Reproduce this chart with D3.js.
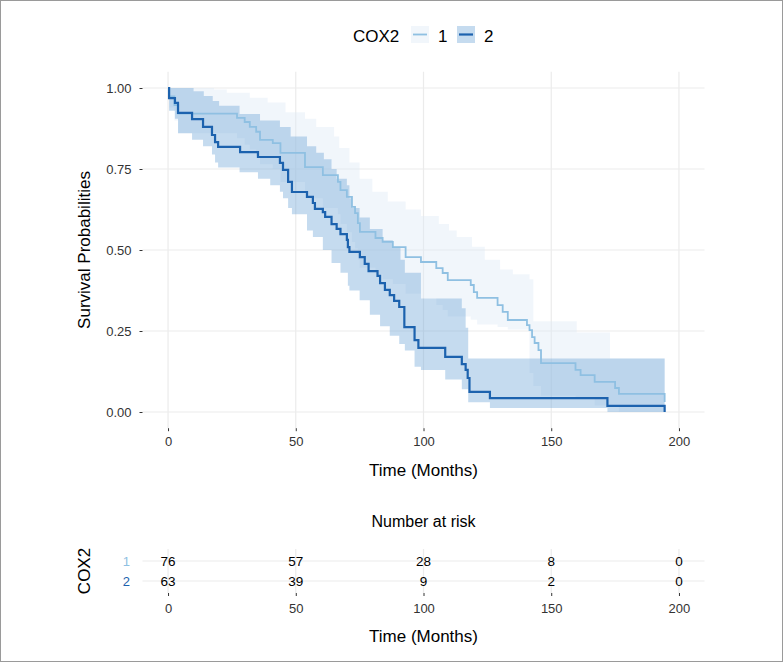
<!DOCTYPE html>
<html><head><meta charset="utf-8">
<script src="https://cdn.jsdelivr.net/npm/d3@7"></script>
<style>body{margin:0;background:#fff}svg text{font-family:"Liberation Sans",Arial,Helvetica,sans-serif}</style>
</head><body><svg id="c" width="783" height="662"></svg>
<script>
// ---- data ----
const groups = ["1", "2"];
const xTicks = [0, 50, 100, 150, 200];
const yTicks = [0, 0.25, 0.5, 0.75, 1];
const yTickLabels = ["0.00", "0.25", "0.50", "0.75", "1.00"];

const time1 = [0,0.5,2.5,4,27,30,32,34.5,36,41,44,53.6,60.6,66.5,67.5,70,72,73.2,74.3,75.1,81.2,84,88,93,99,105,107.5,109.5,118.5,119.7,121,129,131,133,140.5,141.5,142.5,143.5,145,146,159.5,161.5,167,175,176.5,194.4];
const surv1 = [1,0.974,0.947,0.921,0.908,0.895,0.88,0.865,0.84,0.83,0.80,0.756,0.731,0.71,0.685,0.664,0.633,0.614,0.583,0.556,0.537,0.525,0.509,0.478,0.463,0.444,0.429,0.407,0.392,0.370,0.352,0.330,0.309,0.284,0.268,0.253,0.231,0.213,0.191,0.151,0.130,0.114,0.093,0.074,0.056,0.031];

const time2 = [0,0.4,2.7,3.9,9.4,13.7,17.2,18.4,19.6,28.2,35.2,43.8,45,47,48.5,54.4,56.7,57.5,60.6,61.5,64,66,67.5,70,70.4,71,75.1,77,78.5,82,83,84.9,86.8,88.5,90.5,92.5,96.5,98,108.5,115,116.5,117.3,118,126,172,194.4];
const surv2 = [1,0.969,0.954,0.923,0.904,0.880,0.855,0.833,0.818,0.802,0.787,0.769,0.747,0.710,0.679,0.664,0.645,0.627,0.617,0.602,0.580,0.565,0.549,0.531,0.509,0.494,0.478,0.457,0.435,0.420,0.398,0.377,0.361,0.343,0.324,0.262,0.222,0.198,0.170,0.148,0.130,0.105,0.062,0.043,0.019,0];

const bandTime1  = [0,0.5,2.5,4,18,23,27,30,32,34.5,36,39,41,44,46,53.6,58,60.6,65,66.5,67,67.5,70,71,72,73.2,74.3,75,80,81.2,84,86,88,93,99,105,106,107.5,109.5,110,113,118.5,119,121,124,129,130,133,135,141.5,143,146,159.5,160,167,173,176.5,194.4];
const bandLower1 = [1,0.94,0.90,0.86,0.86,0.86,0.845,0.825,0.81,0.79,0.765,0.765,0.75,0.71,0.71,0.66,0.66,0.63,0.63,0.61,0.61,0.58,0.555,0.555,0.525,0.505,0.47,0.445,0.445,0.425,0.41,0.41,0.395,0.365,0.35,0.33,0.33,0.315,0.295,0.295,0.295,0.285,0.285,0.27,0.27,0.262,0.262,0.255,0.255,0.12,0.08,0.05,0.04,0.04,0.02,0.02,0,0];
const bandUpper1 = [1,1,1,1,0.995,0.985,0.985,0.985,0.97,0.97,0.97,0.955,0.955,0.955,0.925,0.905,0.88,0.88,0.85,0.85,0.815,0.815,0.815,0.77,0.77,0.77,0.77,0.72,0.68,0.68,0.68,0.65,0.65,0.625,0.605,0.605,0.58,0.58,0.58,0.56,0.54,0.54,0.51,0.51,0.47,0.47,0.44,0.44,0.425,0.41,0.28,0.28,0.28,0.245,0.245,0.165,0.165,0.165];

const bandTime2  = [0,0.4,2.7,3.9,9.4,10,13.7,14,17.2,17.5,18.4,19.6,20,28,35.2,36,40,43.8,45,47,48,48.5,54.4,56.7,58,60.6,61,64,66,67.5,70,70.4,71,72,75,79,83,84,86.8,88,90.5,91,92.7,96.5,99,108.5,115,116.5,117.5,126,172,194.4];
const bandLower2 = [1,0.93,0.905,0.86,0.84,0.84,0.82,0.82,0.795,0.795,0.77,0.755,0.755,0.74,0.72,0.72,0.70,0.68,0.66,0.63,0.63,0.61,0.56,0.54,0.54,0.50,0.50,0.46,0.46,0.43,0.43,0.39,0.375,0.375,0.345,0.30,0.265,0.265,0.235,0.235,0.21,0.21,0.19,0.14,0.13,0.10,0.07,0.07,0.03,0.012,0,0];
const bandUpper2 = [1,1,1,1,1,0.99,0.99,0.975,0.975,0.96,0.96,0.96,0.945,0.92,0.92,0.90,0.90,0.88,0.88,0.88,0.85,0.85,0.82,0.82,0.80,0.80,0.78,0.75,0.72,0.72,0.70,0.70,0.66,0.63,0.60,0.565,0.565,0.53,0.53,0.51,0.51,0.47,0.43,0.43,0.35,0.35,0.32,0.26,0.165,0.165,0.165,0.165];

const riskTimes = [0, 50, 100, 150, 200];
const risk1 = [76, 57, 28, 8, 0];
const risk2 = [63, 39, 9, 2, 0];

// ---- styles ----
const lineCol = {"1": "#8fc0e2", "2": "#1c62ae"};
const bandCol = {"1": "#dbe9f6", "2": "#6fa6d6"};
const bandOp = 0.4;
const tickCol = "#333333", gridCol = "#ebebeb";

const svg = d3.select("#c");
svg.append("rect").attr("x",0.5).attr("y",0.5).attr("width",782).attr("height",661).attr("fill","#fff").attr("stroke","#9a9a9a");

const x = d3.scaleLinear().domain([-10, 210]).range([142.5, 704.5]);
const y = d3.scaleLinear().domain([-0.05, 1.05]).range([428.2, 71.8]);

const g = svg.append("g");
// grid
g.selectAll(".gy").data(yTicks).join("line").attr("x1",x(-10)).attr("x2",x(210)).attr("y1",d=>y(d)).attr("y2",d=>y(d)).attr("stroke",gridCol).attr("stroke-width",1.2);
g.selectAll(".gx").data(xTicks).join("line").attr("y1",y(-0.05)).attr("y2",y(1.05)).attr("x1",d=>x(d)).attr("x2",d=>x(d)).attr("stroke",gridCol).attr("stroke-width",1.2);

// axes
const yAxis = d3.axisLeft(y).tickValues(yTicks).tickFormat((d,i)=>yTickLabels[i]).tickSize(3).tickPadding(8);
const ya = g.append("g").attr("transform",`translate(${x(-10)},0)`).call(yAxis);
const xAxis = d3.axisBottom(x).tickValues(xTicks).tickSize(3).tickPadding(6);
const xa = g.append("g").attr("transform",`translate(0,${y(-0.05)})`).call(xAxis);
[ya, xa].forEach(a=>{a.select(".domain").remove();a.selectAll("line").attr("stroke","#333");a.selectAll("text").attr("fill",tickCol).attr("font-size",13).attr("font-family","Liberation Sans, Arial, sans-serif");});

// bands
const area = d3.area().curve(d3.curveStepAfter).x(d=>x(d[0])).y0(d=>y(d[1])).y1(d=>y(d[2]));
const b1 = bandTime1.map((t,i)=>[t,bandLower1[i],bandUpper1[i]]);
const b2 = bandTime2.map((t,i)=>[t,bandLower2[i],bandUpper2[i]]);
g.append("path").attr("d",area(b1)).attr("fill",bandCol["1"]).attr("fill-opacity",bandOp);
g.append("path").attr("d",area(b2)).attr("fill",bandCol["2"]).attr("fill-opacity",bandOp);

// lines
const line = d3.line().curve(d3.curveStepAfter).x(d=>x(d[0])).y(d=>y(d[1]));
g.append("path").attr("d",line(time1.map((t,i)=>[t,surv1[i]]))).attr("fill","none").attr("stroke",lineCol["1"]).attr("stroke-width",1.8);
g.append("path").attr("d",line(time2.map((t,i)=>[t,surv2[i]]))).attr("fill","none").attr("stroke",lineCol["2"]).attr("stroke-width",2.2);

// axis titles
svg.append("text").attr("x",(x(-10)+x(210))/2).attr("y",476).attr("text-anchor","middle").attr("font-size",17).text("Time (Months)");
svg.append("text").attr("transform",`translate(90,${(y(-0.05)+y(1.05))/2}) rotate(-90)`).attr("text-anchor","middle").attr("font-size",17).text("Survival Probabilities");

// legend
const lg = svg.append("g");
lg.append("text").attr("x",353).attr("y",42).attr("font-size",17).text("COX2");
groups.forEach((k,i)=>{
  const kx = [411,457][i];
  lg.append("rect").attr("x",kx).attr("y",26).attr("width",18).attr("height",17).attr("fill",bandCol[k]).attr("fill-opacity",bandOp);
  lg.append("line").attr("x1",kx+2).attr("x2",kx+16).attr("y1",34.5).attr("y2",34.5).attr("stroke",lineCol[k]).attr("stroke-width",i?2.2:1.8);
  lg.append("text").attr("x",kx+27).attr("y",42).attr("font-size",17).text(k);
});

// risk table
const ry = d3.scalePoint().domain(groups).range([561, 581]);
const rt = svg.append("g");
rt.selectAll(".rg").data(groups).join("line").attr("x1",x(-10)).attr("x2",x(210)).attr("y1",d=>ry(d)).attr("y2",d=>ry(d)).attr("stroke",gridCol).attr("stroke-width",1.2);
rt.selectAll(".rv").data(xTicks).join("line").attr("x1",d=>x(d)).attr("x2",d=>x(d)).attr("y1",549).attr("y2",593).attr("stroke",gridCol).attr("stroke-width",1.2);
const rxa = rt.append("g").attr("transform","translate(0,593)").call(d3.axisBottom(x).tickValues(xTicks).tickSize(3).tickPadding(8));
rxa.select(".domain").remove(); rxa.selectAll("line").attr("stroke","#333");
rxa.selectAll("text").attr("fill",tickCol).attr("font-size",13).attr("font-family","Liberation Sans, Arial, sans-serif");
const rows = {"1": risk1, "2": risk2};
groups.forEach(k=>{
  rt.selectAll(".n"+k).data(riskTimes.map((t,i)=>[t,rows[k][i]])).join("text")
    .attr("x",d=>x(d[0])).attr("y",ry(k)).attr("dy","0.36em").attr("text-anchor","middle").attr("font-size",13.5).text(d=>d[1]);
  rt.append("text").attr("x",130).attr("y",ry(k)).attr("dy","0.36em").attr("text-anchor","end").attr("font-size",13).attr("fill",lineCol[k]).text(k);
});
svg.append("text").attr("x",(x(-10)+x(210))/2).attr("y",527).attr("text-anchor","middle").attr("font-size",16).text("Number at risk");
svg.append("text").attr("x",(x(-10)+x(210))/2).attr("y",642).attr("text-anchor","middle").attr("font-size",17).text("Time (Months)");
svg.append("text").attr("transform","translate(90,571) rotate(-90)").attr("text-anchor","middle").attr("font-size",17).text("COX2");
</script></body></html>
